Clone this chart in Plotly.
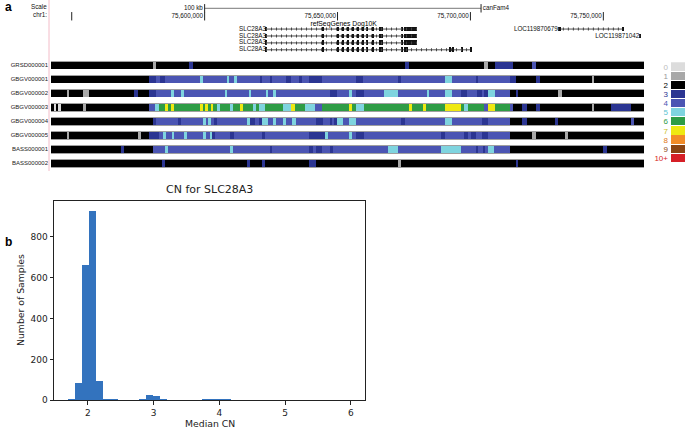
import plotly.graph_objects as go

W, H = 685, 434

# ---------------- panel a data (positions in kb relative to chr1:75,600,000) ----------------
CHROM_ORIGIN = 75_600_000
view_kb = [-57.8, 165.3]

samples = ["GRSD000001", "GBGV000001", "GBGV000002", "GBGV000003",
           "GBGV000004", "GBGV000005", "BASS000001", "BASS000002"]

grsd000001_breaks = [-57.8, -19.3, -18.4, -5.8, -4.2, 75.4, 76.9, 105.2, 106.5, 109.2, 116.1, 123.3, 124.5, 165.3]
grsd000001_cn = [2, 1, 2, 3, 2, 3, 2, 1, 2, 3, 2, 4, 2]

gbgv000001_breaks = [-57.8, -20.9, -18.4, -16.7, -15.1, -1.7, -0.8, 8.7, 9.3, 11.1, 12.1, 20.9, 21.7, 24.6,
                     25.5, 30.6, 32.5, 35.5, 36.8, 39.3, 44.3, 57.0, 59.7, 72.9, 73.8, 90.4, 92.9, 102.3,
                     102.9, 114.9, 117.0, 124.5, 126.1, 145.6, 146.5, 165.3]
gbgv000001_cn = [2, 3, 4, 3, 4, 5, 4, 5, 4, 5, 4, 3, 4, 3, 4, 3, 4, 3, 4, 3, 4, 3, 4, 3, 4, 5, 4, 3, 4, 3,
                 2, 3, 2, 1, 2]

gbgv000002_breaks = [-57.8, -51.8, -50.9, -45.6, -43.4, -26.4, -24.9, -20.9, -18.4, -12.6, -11.6, -8.8, -7.8,
                     7.7, 8.6, 16.7, 17.5, 23.0, 24.0, 25.9, 26.9, 47.2, 49.7, 54.3, 55.3, 57.0, 60.0, 67.6,
                     72.6, 83.5, 84.5, 90.4, 92.9, 96.4, 98.6, 102.3, 104.2, 105.2, 106.5, 109.2, 114.9, 117.0,
                     118.0, 133.0, 134.3, 165.3]
gbgv000002_cn = [2, 1, 2, 1, 2, 3, 2, 3, 4, 5, 4, 5, 4, 5, 4, 5, 4, 5, 4, 5, 4, 3, 4, 5, 4, 3, 4, 5, 4, 5,
                 4, 5, 4, 3, 4, 3, 4, 3, 5, 4, 2, 3, 2, 1, 2]

gbgv000003_breaks = [-57.8, -56.6, -55.8, -55.1, -54.2, -45.6, -44.6, -20.9, -18.6, -17.1, -14.9, -13.8, -12.6,
                     -11.6, -1.7, -0.8, 0.2, 1.1, 2.3, 3.1, 4.6, 5.8, 9.6, 10.8, 13.3, 14.6, 18.3, 19.3, 20.5,
                     22.7, 29.6, 32.5, 34.0, 37.8, 41.5, 44.3, 54.3, 55.3, 56.9, 60.0, 76.9, 77.9, 82.0, 83.2,
                     90.4, 96.4, 97.7, 99.0, 105.2, 106.5, 109.2, 114.9, 116.1, 119.5, 121.1, 124.5, 126.1,
                     145.6, 146.5, 152.7, 160.4, 165.3]
gbgv000003_cn = [2, 0, 2, 0, 2, 1, 2, 4, 5, 6, 7, 6, 7, 6, 7, 6, 7, 6, 7, 6, 5, 6, 5, 6, 7, 6, 5, 6, 5, 6,
                 5, 7, 6, 5, 4, 6, 7, 6, 5, 6, 7, 6, 7, 6, 7, 6, 5, 6, 4, 7, 6, 4, 2, 3, 2, 3, 2, 1, 2, 3, 2]

gbgv000004_breaks = [-57.8, -19.3, -18.4, -9.9, -8.8, -0.5, 0.5, 1.4, 2.3, 3.7, 4.7, 16.1, 17.1, 19.0, 20.5,
                     21.7, 24.0, 25.9, 26.9, 29.6, 30.5, 32.8, 34.3, 41.8, 44.7, 47.2, 48.1, 48.8, 49.7, 52.0,
                     54.3, 56.9, 73.9, 75.4, 90.4, 92.9, 104.2, 106.5, 114.9, 119.5, 121.1, 131.8, 133.0,
                     160.4, 161.5, 165.3]
gbgv000004_cn = [2, 3, 4, 3, 4, 5, 4, 5, 4, 3, 4, 5, 3, 4, 3, 5, 4, 5, 4, 5, 4, 5, 4, 3, 4, 3, 4, 3, 5, 4,
                 5, 4, 3, 4, 5, 4, 3, 4, 2, 3, 2, 3, 2, 4, 2]

gbgv000005_breaks = [-57.8, -51.8, -50.9, -24.9, -23.9, -20.9, -17.1, -15.5, -14.6, -12.3, -11.5, -7.6, -6.7,
                     -0.5, 0.5, 2.3, 2.9, 3.9, 9.6, 11.1, 21.7, 22.7, 39.3, 45.3, 46.5, 54.3, 55.3, 56.9, 60.0,
                     88.9, 90.4, 97.7, 99.0, 100.2, 102.0, 104.2, 106.5, 114.9, 123.3, 124.5, 135.5, 136.8,
                     165.3]
gbgv000005_cn = [2, 1, 2, 1, 2, 3, 4, 5, 4, 5, 4, 5, 4, 5, 4, 5, 3, 4, 3, 4, 3, 4, 3, 5, 4, 5, 4, 3, 4, 3,
                 4, 3, 4, 3, 4, 3, 4, 2, 1, 2, 1, 2]

bass000001_breaks = [-57.8, -31.4, -30.3, -19.3, -14.9, -13.8, 9.6, 10.8, 24.6, 25.5, 39.3, 40.9, 41.8, 44.3,
                     47.2, 48.4, 68.9, 72.6, 88.9, 96.4, 102.1, 102.8, 104.6, 105.5, 106.7, 109.0, 114.9,
                     149.9, 151.2, 165.3]
bass000001_cn = [2, 3, 2, 4, 5, 4, 5, 4, 3, 4, 3, 4, 3, 4, 3, 4, 5, 4, 5, 4, 3, 4, 3, 4, 5, 4, 2, 3, 2]

bass000002_breaks = [-57.8, -15.9, -14.9, 16.1, 17.1, 21.7, 22.7, 39.3, 41.8, 72.6, 73.9, 117.0, 118.0, 165.3]
bass000002_cn = [2, 3, 2, 3, 2, 3, 2, 3, 2, 1, 2, 3, 2]

tracks = {
    "GRSD000001": (grsd000001_breaks, grsd000001_cn),
    "GBGV000001": (gbgv000001_breaks, gbgv000001_cn),
    "GBGV000002": (gbgv000002_breaks, gbgv000002_cn),
    "GBGV000003": (gbgv000003_breaks, gbgv000003_cn),
    "GBGV000004": (gbgv000004_breaks, gbgv000004_cn),
    "GBGV000005": (gbgv000005_breaks, gbgv000005_cn),
    "BASS000001": (bass000001_breaks, bass000001_cn),
    "BASS000002": (bass000002_breaks, bass000002_cn),
}

cn_labels = ["0", "1", "2", "3", "4", "5", "6", "7", "8", "9", "10+"]
cn_colors = ["#dcdcdc", "#a8a8a8", "#000000", "#2b3592", "#4b55b3", "#7fd4df",
             "#2e9c45", "#efe912", "#f28c28", "#8b4513", "#d61f26"]
cn_label_colors = ["#bdbdbd", "#999999", "#000000", "#2b3592", "#4b55b3", "#5cc4d2",
                   "#2e9c45", "#c8c020", "#e07820", "#8b4513", "#d61f26"]

# ruler / scale bar
ruler_ticks_kb = [-50, 0, 50, 100, 150]
scale_bar_kb = [0, 104]

# gene models (kb); lanes counted from the top of the browser header
slc_lanes = [4, 5, 6, 7]
slc_tx_start = [23.1, 23.1, 23.1, 23.1]
slc_tx_end = [79.9, 79.9, 79.9, 100.2]
slc_exon_start = [23.0, 44.4, 50.0, 51.9, 53.8, 55.6, 57.5, 59.4, 60.9, 63.2, 65.8, 66.5, 74.1, 75.2, 75.9]
slc_exon_end = [23.6, 44.9, 50.5, 52.3, 54.2, 56.0, 57.9, 59.8, 61.3, 63.6, 66.2, 66.9, 74.5, 75.6, 76.3]
slc_utr_block = [76.5, 79.9]
slc_tx4_extra_start = [92.2, 93.3, 96.6, 99.9]
slc_tx4_extra_end = [92.6, 93.7, 97.0, 100.3]

loc_names = ["LOC119870679", "LOC119871042"]
loc_lanes = [4, 5]
loc_tx_start = [132.9, 163.5]
loc_tx_end = [157.4, 164.0]
loc_exon_start = [132.9, 157.1, 163.5]
loc_exon_end = [134.0, 157.5, 164.0]
loc_exon_lane = [4, 4, 5]

# ---------------- panel b data ----------------
hist_start = 1.7
bin_width = 0.1075
cn_counts = [5, 88, 663, 926, 97, 10, 5, 1, 0, 1,
             8, 27, 22, 8, 1, 0, 1, 0, 1, 4,
             4, 8, 4, 1, 0, 0, 0, 0, 0, 1,
             0, 0, 0, 0, 0, 0, 0, 0, 0, 1]
bin_centers = [hist_start + bin_width * (i + 0.5) for i in range(len(cn_counts))]


def px_x(p):
    return p / W


def px_y(p):
    return 1 - p / H


fig = go.Figure()

# copy-number tracks: grey outline bar underneath, coloured segments on top
fig.add_trace(go.Bar(orientation="h", y=samples, base=[view_kb[0]] * len(samples),
                     x=[view_kb[1] - view_kb[0]] * len(samples), width=0.6,
                     marker=dict(color="#a0a0a0", line_width=0),
                     xaxis="x", yaxis="y2", hoverinfo="skip"))
seg_y, seg_base, seg_len, seg_col = [], [], [], []
for name, (breaks, cns) in tracks.items():
    for a, b, c in zip(breaks[:-1], breaks[1:], cns):
        seg_y.append(name)
        seg_base.append(a)
        seg_len.append(b - a)
        seg_col.append(cn_colors[c])
fig.add_trace(go.Bar(orientation="h", y=seg_y, base=seg_base, x=seg_len, width=0.5,
                     marker=dict(color=seg_col, line_width=0), xaxis="x", yaxis="y2"))

hdr_font = dict(family="Liberation Sans, Arial", size=6.3, color="#111")
tick_marker = dict(symbol="line-ns-open", size=6, color="#222", line=dict(width=1, color="#222"))

# scale bar
fig.add_trace(go.Scatter(x=scale_bar_kb, y=[1, 1], mode="lines+markers",
                         line=dict(color="#555", width=0.8), marker=tick_marker,
                         xaxis="x", yaxis="y3"))
fig.add_trace(go.Scatter(x=scale_bar_kb, y=[1, 1], mode="text",
                         text=["100 kb ", " canFam4"], textposition=["middle left", "middle right"],
                         textfont=hdr_font, xaxis="x", yaxis="y3"))

# chromosome ruler
fig.add_trace(go.Scatter(x=ruler_ticks_kb, y=[2.15] * len(ruler_ticks_kb), mode="markers",
                         marker=tick_marker, xaxis="x", yaxis="y3"))
fig.add_trace(go.Scatter(x=[t - 0.6 for t in ruler_ticks_kb if t >= 0],
                         y=[2.15] * len([t for t in ruler_ticks_kb if t >= 0]), mode="text",
                         text=[f"{CHROM_ORIGIN + int(t * 1000):,}" for t in ruler_ticks_kb if t >= 0],
                         textposition="middle left", textfont=hdr_font, xaxis="x", yaxis="y3"))

# track title
fig.add_trace(go.Scatter(x=[52.3], y=[3.25], mode="text", text=["refSeqGenes Dog10K"],
                         textposition="middle center",
                         textfont=dict(family="Liberation Sans, Arial", size=6.8, color="#000"),
                         xaxis="x", yaxis="y3"))

# gene models: intron line + hatch, exon blocks, labels
ix, iy = [], []
for s, e, ln in zip(slc_tx_start + loc_tx_start, slc_tx_end + loc_tx_end, slc_lanes + loc_lanes):
    ix += [s, e, None]
    iy += [ln, ln, None]
fig.add_trace(go.Scatter(x=ix, y=iy, mode="lines", line=dict(color="#222", width=0.8),
                         xaxis="x", yaxis="y3"))
fig.add_trace(go.Scatter(x=ix, y=iy, mode="lines", line=dict(color="#444", width=3, dash="1px,4px"),
                         xaxis="x", yaxis="y3"))

ex_s, ex_e, ex_y = [], [], []
for k, ln in enumerate(slc_lanes):
    ex_s += slc_exon_start
    ex_e += slc_exon_end
    ex_y += [ln] * len(slc_exon_start)
    if k < 3:
        ex_s.append(slc_utr_block[0])
        ex_e.append(slc_utr_block[1])
        ex_y.append(ln)
    else:
        ex_s += slc_tx4_extra_start
        ex_e += slc_tx4_extra_end
        ex_y += [ln] * len(slc_tx4_extra_start)
ex_s += loc_exon_start
ex_e += loc_exon_end
ex_y += loc_exon_lane
fig.add_trace(go.Bar(orientation="h", y=ex_y, base=ex_s, x=[e - s for s, e in zip(ex_s, ex_e)],
                     width=0.7, marker=dict(color="#111", line_width=0), xaxis="x", yaxis="y3"))

fig.add_trace(go.Scatter(x=slc_tx_start + loc_tx_start, y=slc_lanes + loc_lanes, mode="text",
                         text=["SLC28A3"] * 4 + loc_names, textposition="middle left",
                         textfont=hdr_font, xaxis="x", yaxis="y3"))

# CN colour key
fig.add_trace(go.Bar(orientation="h", y=list(range(len(cn_labels))), x=[1] * len(cn_labels),
                     width=0.9, marker=dict(color=cn_colors, line_width=0), xaxis="x3", yaxis="y5"))

# panel b histogram
fig.add_trace(go.Bar(x=bin_centers, y=cn_counts, width=bin_width,
                     marker=dict(color="#3373be", line_width=0), xaxis="x2", yaxis="y4"))

mpl_font = dict(family="DejaVu Sans", size=9, color="#222")

fig.update_layout(
    width=W, height=H, margin=dict(l=0, r=0, t=0, b=0),
    paper_bgcolor="white", plot_bgcolor="rgba(0,0,0,0)",
    showlegend=False, barmode="overlay", bargap=0, hovermode=False,
    xaxis=dict(domain=[px_x(51), px_x(644)], range=view_kb, visible=False, anchor="y2"),
    yaxis2=dict(domain=[px_y(172.3), px_y(58.3)], type="category", categoryorder="array",
                categoryarray=samples, range=[7.5, -0.5], anchor="x", showgrid=False,
                zeroline=False, showline=False, ticks="", ticklabelstandoff=2,
                tickfont=dict(family="Liberation Sans, Arial", size=6, color="#222")),
    yaxis3=dict(domain=[px_y(56), 1], range=[7.8, -0.2], visible=False, anchor="x"),
    xaxis3=dict(domain=[px_x(671), 1], range=[0, 1], visible=False, anchor="y5"),
    yaxis5=dict(domain=[px_y(164.6), px_y(63.1)], range=[10.5, -0.5], anchor="x3",
                tickvals=list(range(len(cn_labels))),
                ticktext=[f"<span style='color:{c}'>{t}</span>" for t, c in zip(cn_labels, cn_label_colors)],
                showgrid=False, zeroline=False, showline=False, ticks="", ticklabelstandoff=2,
                tickfont=dict(family="Liberation Sans, Arial", size=8)),
    xaxis2=dict(domain=[px_x(54), px_x(365)], range=[1.485, 6.215], anchor="y4",
                tickvals=[2, 3, 4, 5, 6], showline=True, mirror=True, linecolor="#222", linewidth=0.8,
                ticks="outside", ticklen=3.5, tickwidth=0.8, tickcolor="#222",
                showgrid=False, zeroline=False, tickfont=mpl_font),
    yaxis4=dict(domain=[px_y(405), px_y(203)], range=[0, 976], anchor="x2",
                tickvals=[0, 200, 400, 600, 800], showline=True, mirror=True, linecolor="#222",
                linewidth=0.8, ticks="outside", ticklen=3.5, tickwidth=0.8, tickcolor="#222",
                showgrid=False, zeroline=False, tickfont=mpl_font),
    shapes=[dict(type="line", xref="paper", yref="paper", x0=px_x(49), x1=px_x(49),
                 y0=px_y(173), y1=1, line=dict(color="#f3bcc8", width=1))],
    annotations=[
        dict(text="<b>a</b>", x=px_x(3), y=px_y(7), xref="paper", yref="paper", xanchor="left",
             yanchor="middle", showarrow=False, font=dict(family="Liberation Sans, Arial", size=12, color="#000")),
        dict(text="<b>b</b>", x=px_x(3), y=px_y(245), xref="paper", yref="paper", xanchor="left",
             yanchor="middle", showarrow=False, font=dict(family="Liberation Sans, Arial", size=12, color="#000")),
        dict(text="Scale", x=px_x(48.5), y=px_y(7), xref="paper", yref="paper", xanchor="right",
             yanchor="middle", showarrow=False, font=hdr_font),
        dict(text="chr1:", x=px_x(49), y=px_y(15), xref="paper", yref="paper", xanchor="right",
             yanchor="middle", showarrow=False, font=hdr_font),
        dict(text="CN for SLC28A3", x=px_x(209.5), y=px_y(192), xref="paper", yref="paper",
             xanchor="center", yanchor="middle", showarrow=False,
             font=dict(family="DejaVu Sans", size=11, color="#222")),
        dict(text="Median CN", x=px_x(210), y=px_y(428), xref="paper", yref="paper",
             xanchor="center", yanchor="middle", showarrow=False,
             font=dict(family="DejaVu Sans", size=9.3, color="#222")),
        dict(text="Number of Samples", x=px_x(20.5), y=px_y(304), xref="paper", yref="paper",
             xanchor="center", yanchor="middle", textangle=-90, showarrow=False,
             font=dict(family="DejaVu Sans", size=9.3, color="#222")),
    ],
)

# the page body has a default 8px margin; remove it so the figure fills the window
fig.write_html("out.html", config={"displayModeBar": False},
               post_script="document.body.style.margin='0';")
